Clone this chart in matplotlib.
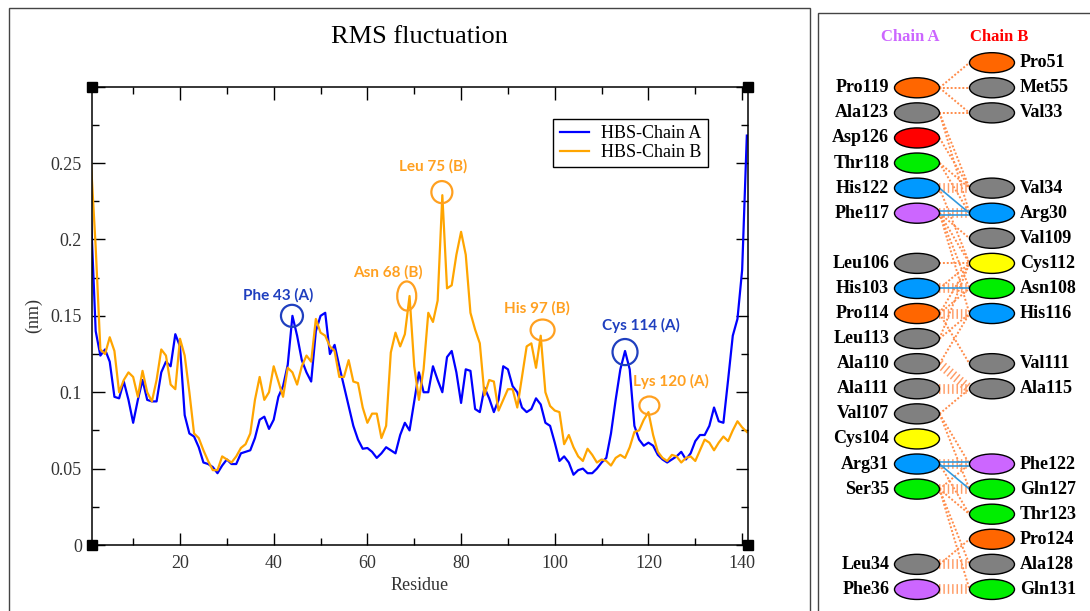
import numpy as np
import matplotlib
matplotlib.use("Agg")
import matplotlib.pyplot as plt
from matplotlib.patches import Ellipse, Rectangle
from matplotlib.ticker import MultipleLocator, FuncFormatter

# RMSF per residue (nm)
chain_a = [0.215, 0.140, 0.124, 0.128, 0.120, 0.097, 0.096, 0.107, 0.095, 0.080,
           0.095, 0.108, 0.095, 0.094, 0.094, 0.113, 0.120, 0.117, 0.138, 0.130,
           0.085, 0.073, 0.071, 0.064, 0.054, 0.053, 0.051, 0.047, 0.052, 0.056,
           0.053, 0.053, 0.060, 0.061, 0.062, 0.070, 0.082, 0.084, 0.076, 0.082,
           0.097, 0.104, 0.118, 0.150, 0.137, 0.121, 0.113, 0.107, 0.140, 0.150,
           0.152, 0.125, 0.131, 0.117, 0.104, 0.091, 0.078, 0.069, 0.063, 0.0635,
           0.061, 0.057, 0.060, 0.064, 0.062, 0.060, 0.072, 0.080, 0.075, 0.094,
           0.113, 0.100, 0.100, 0.117, 0.108, 0.100, 0.123, 0.127, 0.113, 0.093,
           0.115, 0.114, 0.089, 0.087, 0.103, 0.096, 0.087, 0.095, 0.117, 0.115,
           0.104, 0.100, 0.090, 0.087, 0.089, 0.096, 0.092, 0.080, 0.078, 0.067,
           0.055, 0.058, 0.054, 0.046, 0.049, 0.050, 0.047, 0.047, 0.050, 0.054,
           0.057, 0.073, 0.095, 0.115, 0.127, 0.115, 0.078, 0.069, 0.065, 0.067,
           0.065, 0.059, 0.056, 0.054, 0.056, 0.058, 0.061, 0.056, 0.060, 0.068,
           0.072, 0.072, 0.078, 0.090, 0.081, 0.080, 0.108, 0.137, 0.148, 0.180,
           0.268]
chain_b = [0.250, 0.195, 0.128, 0.125, 0.136, 0.127, 0.100, 0.108, 0.113, 0.110,
           0.097, 0.114, 0.100, 0.094, 0.108, 0.128, 0.124, 0.105, 0.102, 0.135,
           0.124, 0.100, 0.073, 0.070, 0.062, 0.055, 0.049, 0.049, 0.058, 0.056,
           0.054, 0.058, 0.0635, 0.066, 0.073, 0.095, 0.110, 0.095, 0.100, 0.117,
           0.107, 0.097, 0.116, 0.113, 0.105, 0.117, 0.124, 0.120, 0.148, 0.139,
           0.137, 0.130, 0.127, 0.110, 0.110, 0.121, 0.107, 0.106, 0.090, 0.080,
           0.086, 0.086, 0.070, 0.078, 0.126, 0.139, 0.130, 0.138, 0.163, 0.117,
           0.095, 0.115, 0.152, 0.146, 0.160, 0.229, 0.168, 0.170, 0.190, 0.205,
           0.190, 0.152, 0.141, 0.132, 0.098, 0.108, 0.107, 0.088, 0.095, 0.102,
           0.102, 0.090, 0.110, 0.130, 0.132, 0.116, 0.137, 0.100, 0.091, 0.088,
           0.087, 0.066, 0.072, 0.064, 0.058, 0.055, 0.063, 0.059, 0.054, 0.056,
           0.055, 0.052, 0.057, 0.059, 0.057, 0.064, 0.074, 0.075, 0.082, 0.087,
           0.072, 0.061, 0.057, 0.055, 0.059, 0.058, 0.054, 0.057, 0.058, 0.055,
           0.062, 0.069, 0.067, 0.062, 0.067, 0.071, 0.068, 0.075, 0.081, 0.077,
           0.074]
residues = np.arange(1, len(chain_a) + 1)

ann_labels = ["Phe 43 (A)", "Asn 68 (B)", "Leu 75 (B)", "His 97 (B)", "Cys 114 (A)", "Lys 120 (A)"]
ann_text_x = [40.9, 64.4, 74.1, 96.2, 118.5, 124.7]
ann_text_y = [0.1635, 0.1786, 0.2476, 0.1548, 0.144, 0.107]
ann_ring_x = [43.9, 68.4, 75.9, 97.4, 115.0, 120.2]
ann_ring_y = [0.150, 0.163, 0.231, 0.1407, 0.1263, 0.0913]
ann_on_line = ["A", "B", "B", "B", "A", "B"]

# interaction diagram
rows_a = [None, "Pro119", "Ala123", "Asp126", "Thr118", "His122", "Phe117", None,
          "Leu106", "His103", "Pro114", "Leu113", "Ala110", "Ala111", "Val107",
          "Cys104", "Arg31", "Ser35", None, None, "Leu34", "Phe36"]
kind_a = [None, "P", "h", "neg", "pol", "pos", "aro", None, "h", "pos", "P", "h",
          "h", "h", "h", "C", "pos", "pol", None, None, "h", "aro"]
rows_b = ["Pro51", "Met55", "Val33", None, None, "Val34", "Arg30", "Val109", "Cys112",
          "Asn108", "His116", None, "Val111", "Ala115", None, None, "Phe122", "Gln127",
          "Thr123", "Pro124", "Ala128", "Gln131"]
kind_b = ["P", "h", "h", None, None, "h", "pos", "h", "C", "pol", "pos", None, "h",
          "h", None, None, "aro", "pol", "pol", "P", "h", "pol"]
links = [("Pro119", "Pro51", "dot"), ("Pro119", "Met55", "dot"), ("Pro119", "Val33", "dot"),
         ("Ala123", "Val33", "dot"), ("Ala123", "Val34", "dot"), ("Ala123", "Arg30", "dot"),
         ("Asp126", "Val34", "dot"), ("Thr118", "Val34", "dot"), ("Thr118", "Arg30", "dot"),
         ("His122", "Val34", "hash"), ("His122", "Arg30", "hb"), ("His122", "Cys112", "dot"),
         ("Phe117", "Arg30", "hash"), ("Phe117", "Arg30", "hb2"), ("Phe117", "Val109", "dot"),
         ("Phe117", "Cys112", "dot"), ("Phe117", "Asn108", "dot"), ("Phe117", "His116", "dot"),
         ("Leu106", "Cys112", "dot"), ("His103", "Asn108", "hash"), ("His103", "Asn108", "hb"),
         ("His103", "Cys112", "dot"), ("Pro114", "His116", "hash"), ("Pro114", "Asn108", "dot"),
         ("Pro114", "Cys112", "dot"), ("Pro114", "Val111", "dot"), ("Leu113", "His116", "dot"),
         ("Leu113", "Cys112", "dot"), ("Ala110", "His116", "dot"), ("Ala110", "Ala115", "hash"),
         ("Ala111", "Ala115", "hash"), ("Val107", "Ala115", "dot"), ("Val107", "Phe122", "dot"),
         ("Val107", "Gln127", "dot"), ("Arg31", "Phe122", "hash"), ("Arg31", "Phe122", "hb2"),
         ("Arg31", "Gln127", "hb"), ("Arg31", "Thr123", "dot"), ("Ser35", "Phe122", "dot"),
         ("Ser35", "Gln127", "hash"), ("Ser35", "Thr123", "dot"), ("Ser35", "Ala128", "dot"),
         ("Ser35", "Gln131", "dot"), ("Leu34", "Ala128", "hash"), ("Leu34", "Pro124", "dot"),
         ("Phe36", "Gln131", "hash")]

kind_color = {"P": "#ff6600", "h": "#808080", "neg": "#ff0000", "pol": "#00ee00",
              "pos": "#0099ff", "aro": "#cc66ff", "C": "#ffff00"}
blue = "#0000ff"
orange = "#ffa500"
ann_color = {"A": "#1f3fbf", "B": "#ffa020"}
ring_px = [(22, 22), (19, 29), (21, 22), (24, 21), (25, 26), (20, 18)]

W, H = 1090, 611
fig = plt.figure(figsize=(W / 100, H / 100), dpi=100)
serif = "Liberation Serif"

ax = fig.add_axes([91.7 / W, 1 - 545 / H, (748 - 91.7) / W, (545 - 86.7) / H])
ax.plot(residues, chain_a, color=blue, lw=1.6, label="HBS-Chain A")
ax.plot(residues, chain_b, color=orange, lw=1.6, label="HBS-Chain B")
ax.set_xlim(1.15, 141.25)
ax.set_ylim(0, 0.3)
ax.xaxis.set_major_locator(MultipleLocator(20))
ax.xaxis.set_minor_locator(MultipleLocator(10))
ax.yaxis.set_major_locator(MultipleLocator(0.05))
ax.yaxis.set_minor_locator(MultipleLocator(0.025))
ax.yaxis.set_major_formatter(FuncFormatter(lambda v, p: "" if v > 0.29 else "%g" % round(v, 3)))
ax.tick_params(which="both", direction="in", top=True, right=True, colors="black",
               labelcolor="#333333", labelsize=13)
ax.tick_params(which="major", length=9, width=1, pad=7)
ax.tick_params(which="minor", length=5, width=1)
for lab in ax.get_xticklabels() + ax.get_yticklabels():
    lab.set_fontfamily(serif)
for s in ax.spines.values():
    s.set_linewidth(1.1)
ax.set_xlabel("Residue", fontsize=13, fontfamily=serif, color="#333333", labelpad=4)
ax.set_ylabel("(nm)", fontsize=13, fontfamily=serif, color="#333333")
ax.yaxis.set_label_coords(-0.076, 0.5)

leg = ax.legend(loc="upper right", bbox_to_anchor=(0.939, 0.93), borderaxespad=0,
                fancybox=False, edgecolor="black", framealpha=1, handlelength=1.6,
                handletextpad=0.7, borderpad=0.35, labelspacing=0.1,
                prop={"family": serif, "size": 13})
leg.get_frame().set_linewidth(1)

# corner handles
for cx, cy in [(0, 0), (0, 1), (1, 0), (1, 1)]:
    ax.plot(cx, cy, "s", ms=7, color="black", transform=ax.transAxes, clip_on=False, zorder=5)

for i, lab in enumerate(ann_labels):
    c = ann_color[ann_on_line[i]]
    ax.text(ann_text_x[i], ann_text_y[i], lab, color=c, fontsize=11, fontweight="bold",
            fontfamily="Lato", ha="center", va="center")
    wpx, hpx = ring_px[i]
    ax.add_patch(Ellipse((ann_ring_x[i], ann_ring_y[i]), wpx / 4.685, hpx / 1522.8,
                         fill=False, edgecolor=c, lw=1.6, zorder=4))

fig.text(419 / W, 1 - 37 / H, "RMS fluctuation", fontsize=19, fontfamily=serif,
         ha="center", va="center")

# panel borders
fig.add_artist(Rectangle((9 / W, -0.02), (810 - 9) / W, 1.02 - 8 / H, transform=fig.transFigure,
                         fill=False, edgecolor="#444444", lw=1))
fig.add_artist(Rectangle((818 / W, -0.02), 0.3, 1.02 - 12.7 / H, transform=fig.transFigure,
                         fill=False, edgecolor="#444444", lw=1))

# interaction panel
ax2 = fig.add_axes([818 / W, 0, 272 / W, (H - 12.7) / H])
ax2.set_xlim(-1.32, 2.307)
ax2.set_ylim(21.86, -1.994)
ax2.axis("off")

row_of_a = {n: i for i, n in enumerate(rows_a) if n}
row_of_b = {n: i for i, n in enumerate(rows_b) if n}
hx = 0.3
for a, b, t in links:
    ya, yb = row_of_a[a], row_of_b[b]
    if t == "dot":
        ax2.plot([hx, 1 - hx], [ya, yb], color="#ff8c4a", lw=1.4, ls=(0, (1, 1)), zorder=1)
    elif t == "hash":
        ax2.plot([hx, 1 - hx], [ya, yb], color="#ff9c66", lw=7, ls=(0, (0.15, 0.3)),
                 solid_capstyle="butt", dash_capstyle="butt", zorder=1)
    elif t == "hb":
        ax2.plot([hx, 1 - hx], [ya, yb], color="#3399dd", lw=1.2, zorder=2)
    else:
        for off in (-0.08, 0.08):
            ax2.plot([hx, 1 - hx], [ya + off, yb + off], color="#3399dd", lw=1.2, zorder=2)

for col, names, kinds in [(0, rows_a, kind_a), (1, rows_b, kind_b)]:
    for r, (n, k) in enumerate(zip(names, kinds)):
        if n is None:
            continue
        ax2.add_patch(Ellipse((col, r), 0.6, 0.8, facecolor=kind_color[k],
                              edgecolor="black", lw=1, zorder=3))
        if col == 0:
            ax2.text(-0.37, r, n, ha="right", va="center", fontsize=13, fontweight="bold",
                     fontfamily=serif)
        else:
            ax2.text(1.37, r, n, ha="left", va="center", fontsize=13, fontweight="bold",
                     fontfamily=serif)

ax2.text(-0.09, -1.02, "Chain A", color="#cc66ff", fontsize=12, fontweight="bold",
         fontfamily=serif, ha="center", va="center")
ax2.text(1.09, -1.02, "Chain B", color="#ff0000", fontsize=12, fontweight="bold",
         fontfamily=serif, ha="center", va="center")

fig.savefig("out.png", dpi=100)
